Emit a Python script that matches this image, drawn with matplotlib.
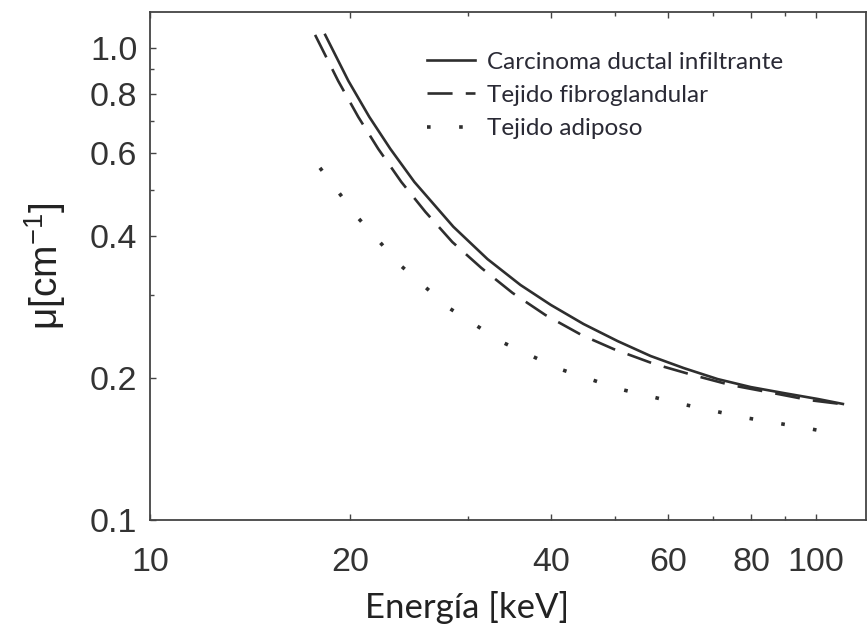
import matplotlib
matplotlib.use("Agg")
import matplotlib.pyplot as plt
from matplotlib.ticker import FixedLocator, FixedFormatter, NullFormatter

# ---- data ----
carcinoma_x = [18.33, 19.86, 21.35, 22.96, 24.95, 28.55, 32.13, 36.01, 40.0, 44.78, 50.38, 56.47, 63.32, 71.22, 79.86, 89.5, 100.7, 109.8]
carcinoma_y = [1.065, 0.851, 0.714, 0.611, 0.520, 0.418, 0.357, 0.3147, 0.2855, 0.2602, 0.2394, 0.2226, 0.2099, 0.1989, 0.1913, 0.1858, 0.1805, 0.1762]

fibro_x = [17.70, 19.17, 20.55, 22.02, 23.85, 25.92, 28.45, 31.45, 35.03, 39.26, 44.48, 49.68, 57.26, 65.32, 74.5, 85.6, 97.9, 109.0]
fibro_y = [1.065, 0.851, 0.714, 0.611, 0.520, 0.4494, 0.388, 0.342, 0.3028, 0.2718, 0.2466, 0.2303, 0.2140, 0.2029, 0.1932, 0.1862, 0.1795, 0.1762]

adiposo_x = [18.0, 20.55, 23.85, 28.16, 33.83, 41.21, 50.73, 63.1, 77.95, 96.9, 108.3]
adiposo_y = [0.557, 0.436, 0.345, 0.281, 0.238, 0.209, 0.1895, 0.176, 0.165, 0.1566, 0.152]

series_labels = ["Carcinoma ductal infiltrante", "Tejido fibroglandular", "Tejido adiposo"]

x_major = [10, 20, 40, 60, 80, 100]
x_minor = [30, 50, 70, 90]
x_ticklabels = ["10", "20", "40", "60", "80", "100"]
y_major = [0.1, 0.2, 0.4, 0.6, 0.8, 1.0]
y_minor = [0.3, 0.5, 0.7, 0.9]
y_ticklabels = ["0.1", "0.2", "0.4", "0.6", "0.8", "1.0"]

x_label = "Energía [keV]"
y_label = r"μ[cm$^{-1}$]"

# ---- figure ----
plt.rcParams['mathtext.fontset'] = 'custom'
plt.rcParams['mathtext.rm'] = 'Liberation Sans'
plt.rcParams['mathtext.it'] = 'Liberation Sans'

fig = plt.figure(figsize=(8.67, 6.39), dpi=100)
ax = fig.add_axes([0.173, 0.186, 0.826, 0.795])

line_col = "#2e2e2e"
ax.plot(carcinoma_x, carcinoma_y, color=line_col, lw=1.9, ls="-", label=series_labels[0])
ax.plot(fibro_x, fibro_y, color=line_col, lw=1.9, ls=(0, (9.5, 5)), label=series_labels[1])
ax.plot(adiposo_x, adiposo_y, color=line_col, lw=2.6, ls=(0, (1, 7.9)), label=series_labels[2])

ax.set_xscale("log")
ax.set_yscale("log")
ax.set_xlim(10, 119)
ax.set_ylim(0.1, 1.19)

ax.xaxis.set_major_locator(FixedLocator(x_major))
ax.xaxis.set_major_formatter(FixedFormatter(x_ticklabels))
ax.xaxis.set_minor_locator(FixedLocator(x_minor))
ax.xaxis.set_minor_formatter(NullFormatter())
ax.yaxis.set_major_locator(FixedLocator(y_major))
ax.yaxis.set_major_formatter(FixedFormatter(y_ticklabels))
ax.yaxis.set_minor_locator(FixedLocator(y_minor))
ax.yaxis.set_minor_formatter(NullFormatter())

tick_col = "#333333"
ax.tick_params(which="both", direction="in", top=True, right=False, color="#444444", width=1.0)
ax.tick_params(which="major", length=4)
ax.tick_params(which="minor", length=3)
ax.tick_params(axis="x", which="major", pad=19)
ax.tick_params(axis="y", which="major", pad=9)
for lab in ax.get_xticklabels() + ax.get_yticklabels():
    lab.set_fontfamily("Liberation Sans")
    lab.set_fontsize(24.5)
    lab.set_color(tick_col)

for sp in ax.spines.values():
    sp.set_color("#444444")
    sp.set_linewidth(1.3)

ax.set_xlabel(x_label, fontfamily="Lato", fontsize=25, color="#222222")
ax.xaxis.set_label_coords(0.443, -0.171)
ax.xaxis.label.set_va("center")
ax.set_ylabel(y_label, fontfamily="Liberation Sans", fontsize=28, color="#222222")
ax.yaxis.set_label_coords(-0.147, 0.5)
ax.yaxis.label.set_va("center")

leg = ax.legend(loc="upper left", bbox_to_anchor=(0.387, 0.922), frameon=False,
                prop={"family": "Lato", "size": 17.5}, handlelength=1.95,
                handletextpad=0.5, labelspacing=0.5, borderaxespad=0, borderpad=0)
for t in leg.get_texts():
    t.set_color("#2a2a35")

fig.savefig("out.png", dpi=100, facecolor="white")
